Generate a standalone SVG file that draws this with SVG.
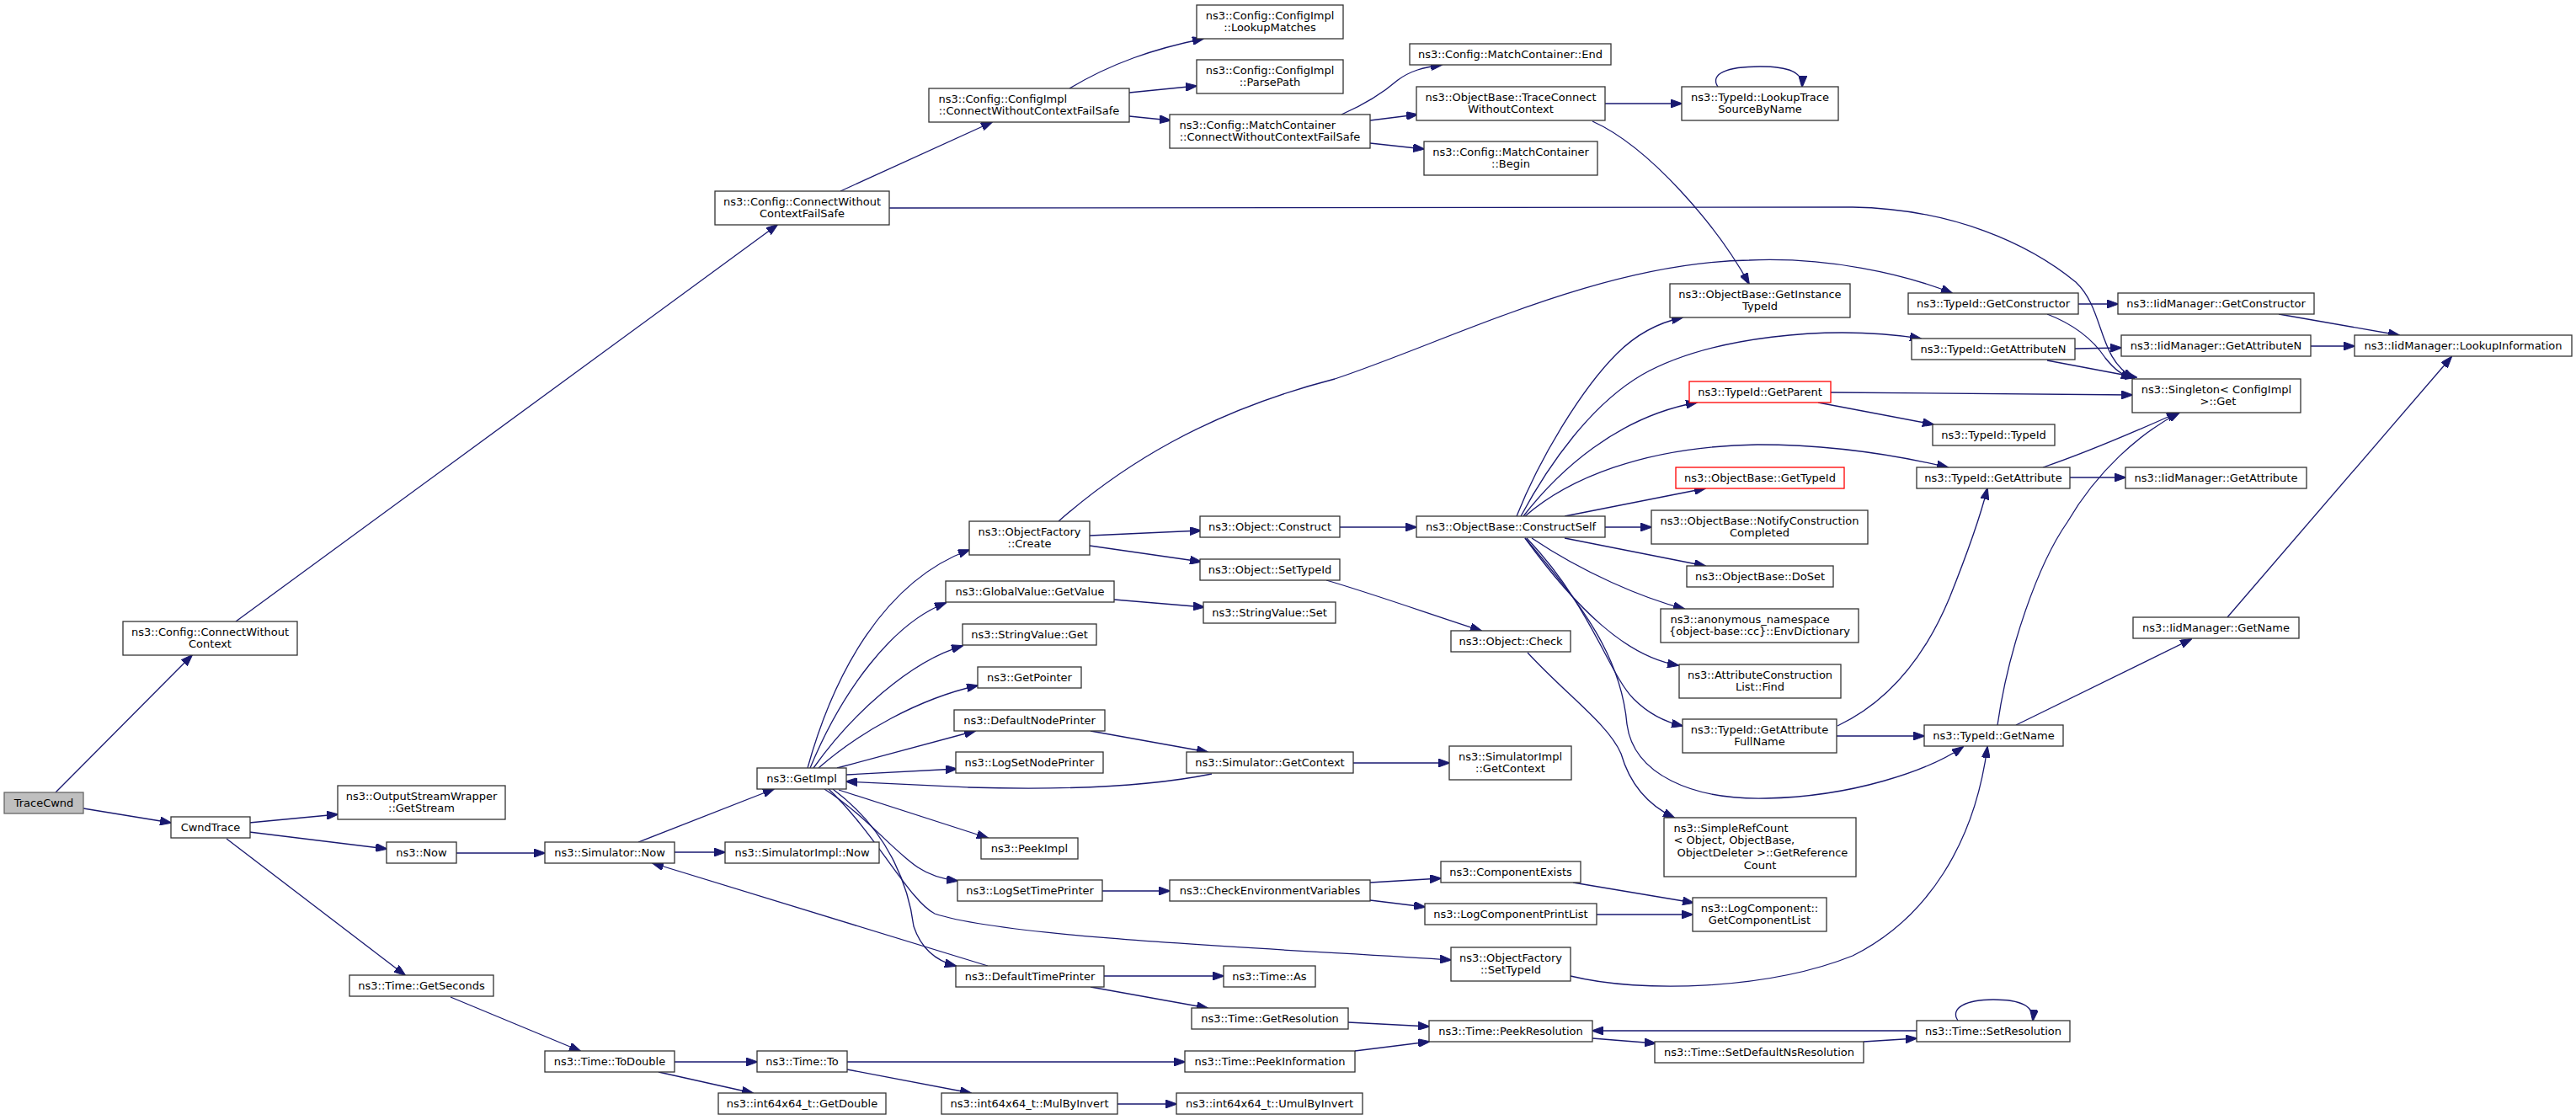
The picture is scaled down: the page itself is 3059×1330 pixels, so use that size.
<svg xmlns="http://www.w3.org/2000/svg" width="3059" height="1330" viewBox="0 0 3059 1330">
<style>
rect{fill:#fff;stroke:#333;stroke-width:1.3}
rect.hl{fill:#bfbfbf;stroke:#666}
rect.red{stroke:#ff0000}
text{font-family:"DejaVu Sans","Liberation Sans",sans-serif;font-size:13px;text-anchor:middle;fill:#000}
text.l{text-anchor:start}
#edges path{fill:none;stroke:#191970;stroke-width:1.3;marker-end:url(#ah)}
</style>
<defs>
<marker id="ah" markerUnits="userSpaceOnUse" markerWidth="14" markerHeight="10" refX="13" refY="5" orient="auto"><path d="M0,0 L14,5 L0,10 z" fill="#191970" stroke="#191970" stroke-width="1"/></marker>
</defs>
<rect x="0" y="0" width="3059" height="1330" style="fill:#fff;stroke:none"/>
<g id="edges">
<path d="M66,941 L228,778"/>
<path d="M99,960 L203,977"/>
<path d="M280,738 L923,267"/>
<path d="M998,227 L1178,145"/>
<path d="M1056,247 L2200,246 C2320,248 2410,290 2465,335 C2500,368 2490,425 2534,449"/>
<path d="M1270,105 C1320,75 1370,58 1429,46"/>
<path d="M1341,110 L1421,102"/>
<path d="M1341,138 L1390,143"/>
<path d="M1593,136 C1625,122 1645,108 1660,95 C1675,84 1690,80 1712,77"/>
<path d="M1627,143 L1683,136"/>
<path d="M1627,170 L1691,177"/>
<path d="M1906,123 L1997,123"/>
<path d="M2040,103 C2030,88 2050,79 2090,79 C2125,79 2141,86 2140,103"/>
<path d="M1891,144 C1960,175 2040,270 2077,337"/>
<path d="M1257,619 C1330,555 1430,490 1585,450 C1720,405 1900,312 2077,309 C2170,305 2260,325 2318,348"/>
<path d="M2468,361 L2515,361"/>
<path d="M2431,373 C2470,388 2490,410 2500,425 C2512,440 2520,445 2532,449"/>
<path d="M2706,373 L2849,398"/>
<path d="M2464,414 L2519,413"/>
<path d="M2431,428 L2537,448"/>
<path d="M2744,411 L2796,411"/>
<path d="M2645,733 L2911,424"/>
<path d="M1801,613 C1830,540 1880,460 1920,420 C1945,395 1970,383 1998,377"/>
<path d="M1806,613 C1840,550 1890,480 1950,445 C2030,400 2170,385 2281,402"/>
<path d="M1809,613 C1850,560 1920,495 2015,478"/>
<path d="M1811,613 C1860,570 1950,530 2087,528 C2170,528 2250,540 2313,555"/>
<path d="M1858,613 L2025,580"/>
<path d="M1906,626 L1961,626"/>
<path d="M1858,639 L2025,672"/>
<path d="M1819,639 C1880,680 1950,710 2000,723"/>
<path d="M1811,639 C1870,720 1930,780 1993,790"/>
<path d="M1813,639 C1890,720 1910,800 1940,830 C1960,850 1980,858 1998,862"/>
<path d="M1814,775 C1860,825 1910,860 1925,895 C1935,930 1955,955 1988,971"/>
<path d="M1811,639 C1880,720 1925,780 1932,860 C1940,920 2010,950 2097,948 C2200,946 2290,915 2331,887"/>
<path d="M1575,689 C1630,705 1700,730 1759,749"/>
<path d="M1591,626 L1682,626"/>
<path d="M1294,636 L1426,630"/>
<path d="M1294,648 L1426,667"/>
<path d="M1323,712 L1430,721"/>
<path d="M1295,868 L1434,893"/>
<path d="M1439,919 C1360,935 1250,938 1150,935 C1100,933 1050,930 1005,928"/>
<path d="M1607,906 L1721,906"/>
<path d="M1005,920 L1136,913"/>
<path d="M996,938 L1173,995"/>
<path d="M979,937 C1030,970 1060,1010 1090,1030 C1105,1040 1120,1044 1137,1046"/>
<path d="M984,937 C1040,990 1080,1070 1110,1085 C1200,1115 1550,1128 1723,1140"/>
<path d="M989,937 C1060,990 1080,1060 1085,1100 C1095,1130 1115,1142 1135,1147"/>
<path d="M959,912 C990,800 1050,690 1151,653"/>
<path d="M962,912 C1000,820 1060,740 1123,716"/>
<path d="M966,912 C1010,850 1080,785 1143,767"/>
<path d="M972,912 C1020,870 1090,830 1161,814"/>
<path d="M994,912 L1158,868"/>
<path d="M758,1000 L919,937"/>
<path d="M801,1012 L861,1012"/>
<path d="M1173,1147 L775,1025"/>
<path d="M1311,1159 L1453,1159"/>
<path d="M1295,1172 L1434,1197"/>
<path d="M1309,1058 L1389,1058"/>
<path d="M1627,1048 L1711,1043"/>
<path d="M1627,1069 L1692,1077"/>
<path d="M1868,1048 L2011,1072"/>
<path d="M1896,1086 L2010,1086"/>
<path d="M1865,1159 C1950,1180 2100,1175 2200,1135 C2290,1090 2345,1000 2360,887"/>
<path d="M1601,1214 L1697,1219"/>
<path d="M1609,1248 L1697,1237"/>
<path d="M1891,1233 L1966,1239"/>
<path d="M2213,1237 L2276,1233"/>
<path d="M2276,1224 L1891,1224"/>
<path d="M2325,1212 C2315,1197 2335,1187 2367,1187 C2400,1187 2416,1195 2414,1212"/>
<path d="M296,977 L401,967"/>
<path d="M296,988 L459,1008"/>
<path d="M269,996 L481,1158"/>
<path d="M542,1013 L647,1013"/>
<path d="M535,1184 L689,1248"/>
<path d="M801,1261 L899,1261"/>
<path d="M782,1273 L894,1298"/>
<path d="M1006,1261 L1407,1261"/>
<path d="M1006,1270 L1153,1298"/>
<path d="M1327,1311 L1397,1311"/>
<path d="M2426,555 C2470,540 2530,515 2586,490"/>
<path d="M2458,567 L2524,567"/>
<path d="M2174,466 L2532,469"/>
<path d="M2159,478 L2296,504"/>
<path d="M2182,862 C2250,830 2290,770 2315,710 C2335,660 2350,620 2360,580"/>
<path d="M2181,874 L2285,874"/>
<path d="M2372,861 C2385,770 2420,670 2455,620 C2490,560 2540,515 2588,490"/>
<path d="M2394,861 L2602,759"/>
</g>
<g id="TraceCwnd"><rect class="hl" x="5" y="941" width="94" height="25"/><text x="52" y="958.2">TraceCwnd</text></g>
<g id="ConnectWithoutContext"><rect x="146" y="738" width="207" height="40"/><text x="249.5" y="754.5">ns3::Config::ConnectWithout</text><text x="249.5" y="769.2">Context</text></g>
<g id="CwndTrace"><rect x="203" y="970" width="94" height="25"/><text x="250" y="987.2">CwndTrace</text></g>
<g id="ConnectWithoutContextFailSafe"><rect x="849" y="227" width="207" height="40"/><text x="952.5" y="243.5">ns3::Config::ConnectWithout</text><text x="952.5" y="258.2">ContextFailSafe</text></g>
<g id="ConfigImpl_ConnectWithoutContextFailSafe"><rect x="1103" y="105" width="238" height="40"/><text class="l" x="1114.5" y="121.5">ns3::Config::ConfigImpl</text><text x="1222" y="136.2">::ConnectWithoutContextFailSafe</text></g>
<g id="ConfigImpl_LookupMatches"><rect x="1421" y="6" width="174" height="40"/><text x="1508" y="22.5">ns3::Config::ConfigImpl</text><text x="1508" y="37.2">::LookupMatches</text></g>
<g id="ConfigImpl_ParsePath"><rect x="1421" y="71" width="174" height="40"/><text x="1508" y="87.5">ns3::Config::ConfigImpl</text><text x="1508" y="102.2">::ParsePath</text></g>
<g id="MatchContainer_ConnectWithoutContextFailSafe"><rect x="1389" y="136" width="238" height="40"/><text class="l" x="1400.5" y="152.5">ns3::Config::MatchContainer</text><text x="1508" y="167.2">::ConnectWithoutContextFailSafe</text></g>
<g id="MatchContainer_End"><rect x="1674" y="52" width="239" height="25"/><text x="1793.5" y="69.2">ns3::Config::MatchContainer::End</text></g>
<g id="ObjectBase_TraceConnectWithoutContext"><rect x="1682" y="103" width="224" height="40"/><text x="1794" y="119.5">ns3::ObjectBase::TraceConnect</text><text x="1794" y="134.2">WithoutContext</text></g>
<g id="MatchContainer_Begin"><rect x="1691" y="168" width="206" height="40"/><text x="1794" y="184.5">ns3::Config::MatchContainer</text><text x="1794" y="199.2">::Begin</text></g>
<g id="TypeId_LookupTraceSourceByName"><rect x="1997" y="103" width="186" height="40"/><text x="2090" y="119.5">ns3::TypeId::LookupTrace</text><text x="2090" y="134.2">SourceByName</text></g>
<g id="ObjectBase_GetInstanceTypeId"><rect x="1983" y="337" width="214" height="40"/><text x="2090" y="353.5">ns3::ObjectBase::GetInstance</text><text x="2090" y="368.2">TypeId</text></g>
<g id="TypeId_GetConstructor"><rect x="2266" y="348" width="202" height="25"/><text x="2367" y="365.2">ns3::TypeId::GetConstructor</text></g>
<g id="TypeId_GetAttributeN"><rect x="2270" y="402" width="194" height="25"/><text x="2367" y="419.2">ns3::TypeId::GetAttributeN</text></g>
<g id="IidManager_GetConstructor"><rect x="2515" y="348" width="233" height="25"/><text x="2631.5" y="365.2">ns3::IidManager::GetConstructor</text></g>
<g id="IidManager_GetAttributeN"><rect x="2519" y="398" width="225" height="25"/><text x="2631.5" y="415.2">ns3::IidManager::GetAttributeN</text></g>
<g id="IidManager_LookupInformation"><rect x="2796" y="398" width="258" height="25"/><text x="2925" y="415.2">ns3::IidManager::LookupInformation</text></g>
<g id="Singleton_Get"><rect x="2532" y="450" width="200" height="40"/><text x="2632" y="466.5">ns3::Singleton&lt; ConfigImpl</text><text x="2634" y="481.2">&gt;::Get</text></g>
<g id="TypeId_TypeId"><rect x="2295" y="504" width="145" height="25"/><text x="2367.5" y="521.2">ns3::TypeId::TypeId</text></g>
<g id="TypeId_GetAttribute"><rect x="2276" y="555" width="182" height="25"/><text x="2367" y="572.2">ns3::TypeId::GetAttribute</text></g>
<g id="IidManager_GetAttribute"><rect x="2524" y="555" width="215" height="25"/><text x="2631.5" y="572.2">ns3::IidManager::GetAttribute</text></g>
<g id="IidManager_GetName"><rect x="2533" y="733" width="197" height="25"/><text x="2631.5" y="750.2">ns3::IidManager::GetName</text></g>
<g id="TypeId_GetName"><rect x="2285" y="861" width="165" height="25"/><text x="2367.5" y="878.2">ns3::TypeId::GetName</text></g>
<g id="TypeId_GetParent"><rect class="red" x="2006" y="453" width="168" height="25"/><text x="2090" y="470.2">ns3::TypeId::GetParent</text></g>
<g id="ObjectBase_GetTypeId"><rect class="red" x="1990" y="555" width="200" height="25"/><text x="2090" y="572.2">ns3::ObjectBase::GetTypeId</text></g>
<g id="ObjectBase_NotifyConstructionCompleted"><rect x="1961" y="606" width="257" height="40"/><text x="2089.5" y="622.5">ns3::ObjectBase::NotifyConstruction</text><text x="2089.5" y="637.2">Completed</text></g>
<g id="ObjectBase_DoSet"><rect x="2003" y="672" width="174" height="25"/><text x="2090" y="689.2">ns3::ObjectBase::DoSet</text></g>
<g id="EnvDictionary"><rect x="1972" y="723" width="235" height="40"/><text class="l" x="1983.5" y="739.5">ns3::anonymous_namespace</text><text x="2089.5" y="754.2">{object-base::cc}::EnvDictionary</text></g>
<g id="AttributeConstructionList_Find"><rect x="1994" y="789" width="192" height="40"/><text x="2090" y="805.5">ns3::AttributeConstruction</text><text x="2090" y="820.2">List::Find</text></g>
<g id="TypeId_GetAttributeFullName"><rect x="1998" y="854" width="183" height="40"/><text x="2089.5" y="870.5">ns3::TypeId::GetAttribute</text><text x="2089.5" y="885.2">FullName</text></g>
<g id="ObjectBase_ConstructSelf"><rect x="1682" y="613" width="224" height="25"/><text x="1794" y="630.2">ns3::ObjectBase::ConstructSelf</text></g>
<g id="Object_Construct"><rect x="1425" y="613" width="166" height="25"/><text x="1508" y="630.2">ns3::Object::Construct</text></g>
<g id="Object_SetTypeId"><rect x="1425" y="664" width="166" height="25"/><text x="1508" y="681.2">ns3::Object::SetTypeId</text></g>
<g id="StringValue_Set"><rect x="1429" y="715" width="157" height="25"/><text x="1507.5" y="732.2">ns3::StringValue::Set</text></g>
<g id="Object_Check"><rect x="1723" y="749" width="142" height="25"/><text x="1794" y="766.2">ns3::Object::Check</text></g>
<g id="SimulatorImpl_GetContext"><rect x="1721" y="886" width="145" height="40"/><text x="1793.5" y="902.5">ns3::SimulatorImpl</text><text x="1793.5" y="917.2">::GetContext</text></g>
<g id="SimpleRefCount_GetReferenceCount"><rect x="1976" y="971" width="228" height="70"/><text class="l" x="1987.5" y="987.5">ns3::SimpleRefCount</text><text class="l" x="1987.5" y="1002.2">&lt; Object, ObjectBase,</text><text class="l" x="1991.5" y="1016.9">ObjectDeleter &gt;::GetReference</text><text x="2090" y="1031.6">Count</text></g>
<g id="ComponentExists"><rect x="1711" y="1023" width="166" height="25"/><text x="1794" y="1040.2">ns3::ComponentExists</text></g>
<g id="LogComponentPrintList"><rect x="1692" y="1073" width="204" height="25"/><text x="1794" y="1090.2">ns3::LogComponentPrintList</text></g>
<g id="LogComponent_GetComponentList"><rect x="2010" y="1066" width="159" height="40"/><text x="2089.5" y="1082.5">ns3::LogComponent::</text><text x="2089.5" y="1097.2">GetComponentList</text></g>
<g id="ObjectFactory_SetTypeId"><rect x="1723" y="1125" width="142" height="40"/><text x="1794" y="1141.5">ns3::ObjectFactory</text><text x="1794" y="1156.2">::SetTypeId</text></g>
<g id="Time_PeekResolution"><rect x="1697" y="1212" width="194" height="25"/><text x="1794" y="1229.2">ns3::Time::PeekResolution</text></g>
<g id="Time_SetDefaultNsResolution"><rect x="1965" y="1237" width="248" height="25"/><text x="2089" y="1254.2">ns3::Time::SetDefaultNsResolution</text></g>
<g id="Time_SetResolution"><rect x="2276" y="1212" width="182" height="25"/><text x="2367" y="1229.2">ns3::Time::SetResolution</text></g>
<g id="ObjectFactory_Create"><rect x="1151" y="619" width="143" height="40"/><text x="1222.5" y="635.5">ns3::ObjectFactory</text><text x="1222.5" y="650.2">::Create</text></g>
<g id="GlobalValue_GetValue"><rect x="1123" y="690" width="200" height="25"/><text x="1223" y="707.2">ns3::GlobalValue::GetValue</text></g>
<g id="StringValue_Get"><rect x="1143" y="741" width="159" height="25"/><text x="1222.5" y="758.2">ns3::StringValue::Get</text></g>
<g id="GetPointer"><rect x="1161" y="792" width="123" height="25"/><text x="1222.5" y="809.2">ns3::GetPointer</text></g>
<g id="DefaultNodePrinter"><rect x="1133" y="843" width="179" height="25"/><text x="1222.5" y="860.2">ns3::DefaultNodePrinter</text></g>
<g id="GetImpl"><rect x="899" y="912" width="106" height="25"/><text x="952" y="929.2">ns3::GetImpl</text></g>
<g id="LogSetNodePrinter"><rect x="1135" y="893" width="175" height="25"/><text x="1222.5" y="910.2">ns3::LogSetNodePrinter</text></g>
<g id="Simulator_GetContext"><rect x="1409" y="893" width="198" height="25"/><text x="1508" y="910.2">ns3::Simulator::GetContext</text></g>
<g id="Simulator_Now"><rect x="647" y="1000" width="154" height="25"/><text x="724" y="1017.2">ns3::Simulator::Now</text></g>
<g id="SimulatorImpl_Now"><rect x="861" y="1000" width="183" height="25"/><text x="952.5" y="1017.2">ns3::SimulatorImpl::Now</text></g>
<g id="PeekImpl"><rect x="1165" y="995" width="115" height="25"/><text x="1222.5" y="1012.2">ns3::PeekImpl</text></g>
<g id="LogSetTimePrinter"><rect x="1137" y="1045" width="172" height="25"/><text x="1223" y="1062.2">ns3::LogSetTimePrinter</text></g>
<g id="CheckEnvironmentVariables"><rect x="1389" y="1045" width="238" height="25"/><text x="1508" y="1062.2">ns3::CheckEnvironmentVariables</text></g>
<g id="DefaultTimePrinter"><rect x="1135" y="1147" width="176" height="25"/><text x="1223" y="1164.2">ns3::DefaultTimePrinter</text></g>
<g id="Time_As"><rect x="1453" y="1147" width="109" height="25"/><text x="1507.5" y="1164.2">ns3::Time::As</text></g>
<g id="Time_GetResolution"><rect x="1415" y="1197" width="186" height="25"/><text x="1508" y="1214.2">ns3::Time::GetResolution</text></g>
<g id="Time_To"><rect x="899" y="1248" width="107" height="25"/><text x="952.5" y="1265.2">ns3::Time::To</text></g>
<g id="Time_PeekInformation"><rect x="1407" y="1248" width="202" height="25"/><text x="1508" y="1265.2">ns3::Time::PeekInformation</text></g>
<g id="int64x64_GetDouble"><rect x="853" y="1298" width="199" height="25"/><text x="952.5" y="1315.2">ns3::int64x64_t::GetDouble</text></g>
<g id="int64x64_MulByInvert"><rect x="1118" y="1298" width="209" height="25"/><text x="1222.5" y="1315.2">ns3::int64x64_t::MulByInvert</text></g>
<g id="int64x64_UmulByInvert"><rect x="1397" y="1298" width="221" height="25"/><text x="1507.5" y="1315.2">ns3::int64x64_t::UmulByInvert</text></g>
<g id="Time_ToDouble"><rect x="647" y="1248" width="154" height="25"/><text x="724" y="1265.2">ns3::Time::ToDouble</text></g>
<g id="OutputStreamWrapper_GetStream"><rect x="401" y="933" width="199" height="40"/><text x="500.5" y="949.5">ns3::OutputStreamWrapper</text><text x="500.5" y="964.2">::GetStream</text></g>
<g id="Now"><rect x="459" y="1000" width="83" height="25"/><text x="500.5" y="1017.2">ns3::Now</text></g>
<g id="Time_GetSeconds"><rect x="415" y="1158" width="171" height="25"/><text x="500.5" y="1175.2">ns3::Time::GetSeconds</text></g>
</svg>
